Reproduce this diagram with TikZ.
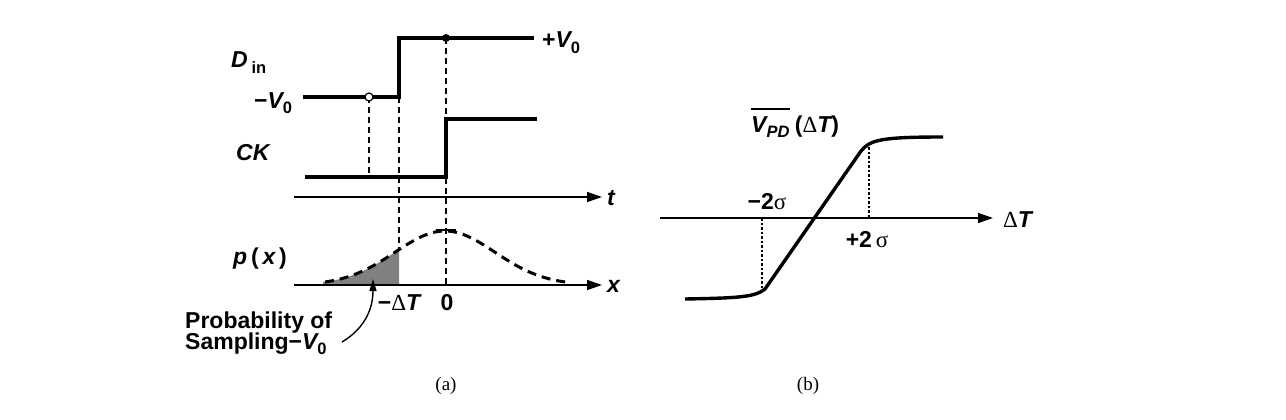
\documentclass[tikz,border=0pt]{standalone}
\usepackage{fontspec}
\setmainfont{Liberation Sans}
\newfontfamily\serfont{Liberation Serif}
\usetikzlibrary{arrows.meta}

\definecolor{areagray}{RGB}{128,128,128}
\newcommand{\lowidx}[1]{\raisebox{-0.45ex}{\fontsize{16.5}{16.5}\selectfont #1}}
\newcommand{\sgm}{{\serfont\mdseries σ}}
\newcommand{\dlt}{{\serfont\mdseries Δ}}

\tikzset{
  lbl/.style={font=\fontsize{23}{25}\selectfont\bfseries, inner sep=0pt},
  figcap/.style={font=\serfont\fontsize{19}{20}\selectfont, inner sep=0pt},
  wave/.style={line width=3.2pt},
  taxis/.style={line width=1.4pt, -{Triangle[length=15pt,width=10pt]}},
  guide/.style={line width=1.3pt, dash pattern=on 6pt off 4pt},
  dotguide/.style={line width=1.1pt, dash pattern=on 2.5pt off 2pt}
}

\begin{document}
\begin{tikzpicture}[x=1pt, y=-1pt]
\useasboundingbox (0,0) rectangle (1286,420);

% (a) Din and CK
\draw[guide] (369,97) -- (369,177);
\draw[guide] (399,97) -- (399,248);
\draw[guide] (446,38) -- (446,285);

\draw[wave] (303,97) -- (399,97) -- (399,38) -- (534,38);
\draw[wave] (305,177) -- (446,177) -- (446,119) -- (537,119);

\node[circle, draw, fill=white, line width=1.2pt, minimum size=8pt, inner sep=0pt] (smpa) at (369,97) {};
\node[circle, fill=black, minimum size=8pt, inner sep=0pt] (smpb) at (446,38) {};

\node[lbl, anchor=base west] (din) at (231,68) {\itshape D\,\upshape\lowidx{in}};
\node[lbl, anchor=base west] (vlo) at (254,108) {−\itshape V\upshape\lowidx{0}};
\node[lbl, anchor=base west] (vhi) at (542,48) {+\itshape V\upshape\lowidx{0}};
\node[lbl, anchor=base west] (ck) at (236,160) {\itshape CK};

\coordinate (ta) at (294,197);
\coordinate (tb) at (602,197);
\draw[taxis] (ta) -- (tb);
\node[lbl, anchor=base west] (tlab) at (607,205) {\itshape t};

% (a) p(x)
\fill[areagray] (323,285) -- (323,281)
  -- plot[domain=323:399, samples=30] (\x, {285-54*exp(-((\x-445)/50)^2/2)})
  -- (399,285) -- cycle;
\draw[line width=3pt, dash pattern=on 9pt off 6pt]
  plot[domain=325:567, samples=80] (\x, {285-54*exp(-((\x-445)/50)^2/2)});
\draw[line width=2.5pt] (436,230) -- (456,230);

\coordinate (xa) at (294,285);
\coordinate (xb) at (602,285);
\draw[taxis] (xa) -- (xb);
\node[lbl, anchor=base west] (xlab) at (607,292) {\itshape x};

\node[lbl, anchor=base west] (px) at (233,264) {\itshape p\,\upshape(\,\itshape x\,\upshape)};
\node[lbl, anchor=base] (mdt) at (399,310) {−\dlt\itshape T};
\node[lbl, anchor=base] (zero) at (447,310) {0};

\node[lbl, anchor=base west] (proba) at (185,328) {Probability of};
\node[lbl, anchor=base west] (probb) at (185,349) {Sampling−\itshape V\upshape\lowidx{0}};
\coordinate (arra) at (342,342);
\coordinate (arrb) at (373,279);
\draw[line width=1.4pt, -{Triangle[length=12pt,width=7pt]}]
  (arra) .. controls (362,330) and (373,312) .. (arrb);

\node[figcap, anchor=base] (capa) at (446,390) {(a)};

% (b) V_PD
\coordinate (da) at (660,218);
\coordinate (db) at (993,218);
\draw[taxis] (da) -- (db);
\node[lbl, anchor=base west] (dlab) at (1003,227) {\dlt\itshape T};

\draw[dotguide] (762,218) -- (762,289);
\draw[dotguide] (869,147) -- (869,218);

\draw[line width=3.4pt]
  (685,299) .. controls (740,298) and (755,297) .. (765,289)
  -- (861,151) .. controls (870,140) and (880,137) .. (943,137);

\node[lbl, anchor=base] (msig) at (767,209) {−2\sgm};
\node[lbl, anchor=base] (psig) at (867,247) {+2\,\sgm};
\node[lbl, anchor=base west] (vpd) at (751,132) {\itshape V\lowidx{PD}};
\node[lbl, anchor=base west] (vpdarg) at ([xshift=5pt]vpd.base east) {(\dlt\itshape T\upshape)};
\draw[line width=1.4pt] ([yshift=7pt]vpd.north west) -- ([yshift=7pt]vpd.north east);

\node[figcap, anchor=base] (capb) at (808,390) {(b)};

\end{tikzpicture}
\end{document}
